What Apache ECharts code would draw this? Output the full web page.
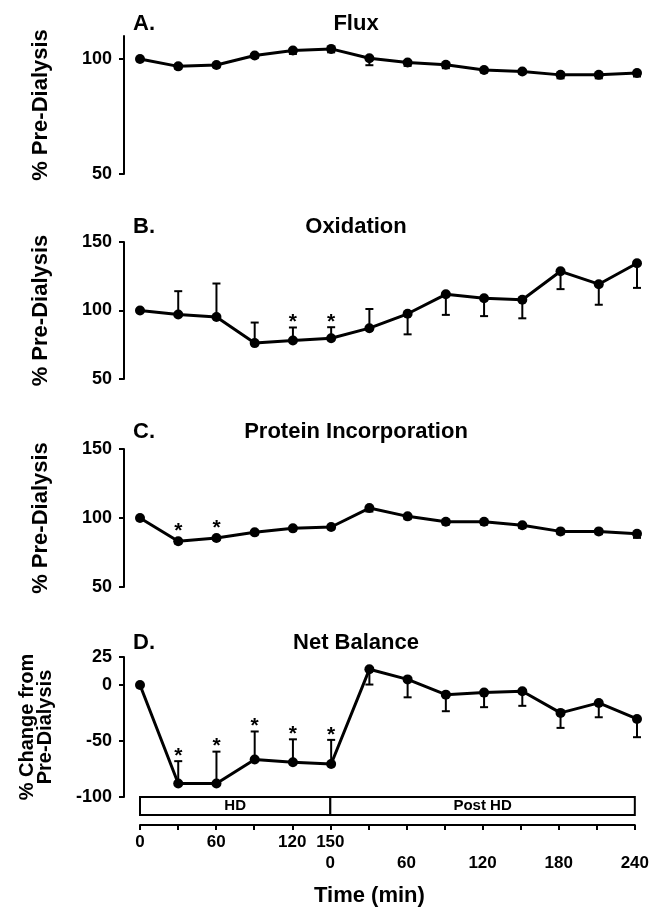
<!DOCTYPE html>
<html><head><meta charset="utf-8">
<script src="https://cdn.jsdelivr.net/npm/echarts@6/dist/echarts.min.js"></script>
<style>html,body{margin:0;padding:0;background:#fff}#chart{width:652px;height:916px}</style>
</head><body><div id="chart"></div>
<script>
// ---- data ----
const sampleTimes = [0, 30, 60, 90, 120, 150, 180, 210, 240, 270, 300, 330, 360, 390]; // elapsed minutes
const hdEnd = 150;
const phaseNames = ['HD', 'Post HD'];
const phaseBounds = [0, 150, 390];
const hdTickTimes = [0, 60, 120, 150];
const hdTickLabels = ['0', '60', '120', '150'];
const postTickTimes = [0, 60, 120, 180, 240];
const postTickLabels = ['0', '60', '120', '180', '240'];

const panelLetters = ['A.', 'B.', 'C.', 'D.'];
const panelTitles = ['Flux', 'Oxidation', 'Protein Incorporation', 'Net Balance'];
const yNames = ['% Pre-Dialysis', '% Pre-Dialysis', '% Pre-Dialysis', '% Change from\nPre-Dialysis'];

const fluxMean = [100, 96.8, 97.4, 101.5, 103.7, 104.4, 100.3, 98.5, 97.5, 95.2, 94.6, 93.1, 93.1, 93.9];
const fluxSem  = [0, 1, 1, 1, 1.5, 1.5, 3, 1.5, 1.5, 1, 1, 1.5, 1.5, 1.5];
const fluxDir  = [-1, -1, -1, -1, -1, -1, -1, -1, -1, -1, -1, -1, -1, -1];
const fluxSig  = [0, 0, 0, 0, 0, 0, 0, 0, 0, 0, 0, 0, 0, 0];
const fluxTicks = [50, 100];

const oxMean = [100, 97.1, 95.2, 76.2, 78.1, 79.8, 87.1, 97.6, 111.8, 108.9, 107.9, 128.6, 119.2, 134.5];
const oxSem  = [0, 17, 24.5, 15, 9.5, 8, 14, 15, 15, 13, 13.6, 13, 15, 18];
const oxDir  = [1, 1, 1, 1, 1, 1, 1, -1, -1, -1, -1, -1, -1, -1];
const oxSig  = [0, 0, 0, 0, 1, 1, 0, 0, 0, 0, 0, 0, 0, 0];
const oxTicks = [50, 100, 150];

const protMean = [100, 83.1, 85.5, 89.6, 92.5, 93.5, 107.2, 101.2, 97.3, 97.3, 94.7, 90.3, 90.3, 88.6];
const protSem  = [0, 1.5, 1.5, 1.5, 1.5, 1.5, 2.5, 2, 2, 2, 2, 2, 2, 3];
const protDir  = [-1, -1, -1, -1, -1, -1, -1, -1, -1, -1, -1, -1, -1, -1];
const protSig  = [0, 1, 1, 0, 0, 0, 0, 0, 0, 0, 0, 0, 0, 0];
const protTicks = [50, 100, 150];

const nbMean = [0, -88, -88, -66.5, -69, -70.5, 14, 5, -8.6, -6.8, -5.6, -24.9, -16, -30.3];
const nbSem  = [0, 20, 28.5, 25, 20.5, 21.5, 13.6, 16, 14.8, 13, 13, 13.4, 12.8, 16.3];
const nbDir  = [1, 1, 1, 1, 1, 1, -1, -1, -1, -1, -1, -1, -1, -1];
const nbSig  = [0, 1, 1, 1, 1, 1, 0, 0, 0, 0, 0, 0, 0, 0];
const nbTicks = [-100, -50, 0, 25];

// ---- layout ----
const FONT = '"Liberation Sans", Arial, Helvetica, sans-serif';
const panels = [
  {mean: fluxMean, sem: fluxSem, dir: fluxDir, sig: fluxSig, ticks: fluxTicks, min: 50, max: 110, top: 36, height: 138, titleTop: 13, nameGap: 72, fs: 22, lh: 22},
  {mean: oxMean, sem: oxSem, dir: oxDir, sig: oxSig, ticks: oxTicks, min: 50, max: 150, top: 242, height: 137, titleTop: 216, nameGap: 72, fs: 22, lh: 22},
  {mean: protMean, sem: protSem, dir: protDir, sig: protSig, ticks: protTicks, min: 50, max: 150, top: 449, height: 138, titleTop: 421, nameGap: 72, fs: 22, lh: 22},
  {mean: nbMean, sem: nbSem, dir: nbDir, sig: nbSig, ticks: nbTicks, min: -100, max: 25, top: 657, height: 140, titleTop: 632, nameGap: 70, fs: 20, lh: 18}
];

const grids = [], xAxes = [], yAxes = [], series = [], titles = [];
panels.forEach((p, i) => {
  grids.push({left: 140, right: 15, top: p.top, height: p.height});
  xAxes.push({gridIndex: i, type: 'value', min: 0, max: 390, show: false});
  yAxes.push({
    gridIndex: i, type: 'value', min: p.min, max: p.max, position: 'left', offset: 16,
    axisLine: {show: true, onZero: false, lineStyle: {color: '#000', width: 2}},
    axisTick: {show: true, length: 5, customValues: p.ticks, lineStyle: {color: '#000', width: 2}},
    axisLabel: {customValues: p.ticks, color: '#000', fontSize: 18, fontWeight: 'bold', fontFamily: FONT, margin: 12},
    splitLine: {show: false},
    name: yNames[i], nameLocation: 'middle', nameRotate: 90, nameGap: p.nameGap,
    nameTextStyle: {color: '#000', fontSize: p.fs, fontWeight: 'bold', fontFamily: FONT, lineHeight: p.lh}
  });
  const rows = sampleTimes.map((t, k) => [t, p.mean[k], p.sem[k], p.dir[k], p.sig[k]]);
  series.push({
    type: 'custom', xAxisIndex: i, yAxisIndex: i, data: rows, z: 2, silent: true,
    encode: {x: 0, y: 1},
    renderItem: (params, api) => {
      const x = api.value(0), m = api.value(1), s = api.value(2), d = api.value(3), g = api.value(4);
      const pt = api.coord([x, m]);
      const end = api.coord([x, m + s * d]);
      const children = [];
      if (s > 0) {
        children.push({type: 'line', shape: {x1: pt[0], y1: pt[1], x2: end[0], y2: end[1]}, style: {stroke: '#000', lineWidth: 2}});
        children.push({type: 'line', shape: {x1: end[0] - 4, y1: end[1], x2: end[0] + 4, y2: end[1]}, style: {stroke: '#000', lineWidth: 2}});
      }
      if (g) {
        let anchor = pt[1] - 5;
        if (d > 0 && end[1] < anchor) anchor = end[1];
        children.push({type: 'text', style: {x: pt[0], y: anchor - 5, text: '*', fill: '#000', font: 'bold 21px ' + FONT, align: 'center', verticalAlign: 'middle'}});
      }
      return {type: 'group', children};
    }
  });
  series.push({
    type: 'line', xAxisIndex: i, yAxisIndex: i, z: 3, silent: true,
    data: sampleTimes.map((t, k) => [t, p.mean[k]]),
    symbol: 'circle', symbolSize: 10,
    lineStyle: {color: '#000', width: 3}, itemStyle: {color: '#000'}
  });
  titles.push({text: panelLetters[i], left: 133, top: p.titleTop, padding: 0,
    textStyle: {color: '#000', fontSize: 22, fontWeight: 'bold', fontFamily: FONT, lineHeight: 22}});
  titles.push({text: panelTitles[i], left: 356, top: p.titleTop, padding: 0, textAlign: 'center',
    textStyle: {color: '#000', fontSize: 22, fontWeight: 'bold', fontFamily: FONT, lineHeight: 22}});
});

// phase box + time axis
grids.push({left: 140, right: 15, top: 797, height: 18});
xAxes.push({
  gridIndex: 4, type: 'value', min: 0, max: 390, interval: 30, position: 'bottom', offset: 10,
  axisLine: {show: true, onZero: false, lineStyle: {color: '#000', width: 2}},
  axisTick: {show: true, length: 5, lineStyle: {color: '#000', width: 2}},
  axisLabel: {
    color: '#000', fontSize: 17, fontWeight: 'bold', fontFamily: FONT, lineHeight: 21, margin: 7,
    showMinLabel: true, showMaxLabel: true,
    formatter: (v) => {
      const a = hdTickTimes.indexOf(v);
      const b = postTickTimes.indexOf(v - hdEnd);
      const r1 = a >= 0 ? hdTickLabels[a] : '';
      const r2 = b >= 0 ? postTickLabels[b] : '';
      if (!r1 && !r2) return '';
      return r1 + '\n' + r2;
    }
  },
  splitLine: {show: false},
  name: 'Time (min)', nameLocation: 'middle', nameGap: 60,
  nameTextStyle: {color: '#000', fontSize: 22, fontWeight: 'bold', fontFamily: FONT, padding: [0, 36, 0, 0]}
});
yAxes.push({gridIndex: 4, type: 'value', min: 0, max: 1, show: false});
series.push({
  type: 'line', xAxisIndex: 4, yAxisIndex: 4, data: [], silent: true,
  markArea: {
    silent: true,
    itemStyle: {color: '#fff', borderColor: '#000', borderWidth: 2},
    label: {show: true, position: 'inside', color: '#000', fontSize: 15, fontWeight: 'bold', fontFamily: FONT},
    data: phaseNames.map((n, k) => [{name: n, xAxis: phaseBounds[k], yAxis: 0}, {xAxis: phaseBounds[k + 1], yAxis: 1}])
  }
});

const chart = echarts.init(document.getElementById('chart'), null, {renderer: 'canvas'});
chart.setOption({
  backgroundColor: '#fff',
  animation: false,
  textStyle: {fontFamily: FONT},
  title: titles,
  grid: grids,
  xAxis: xAxes,
  yAxis: yAxes,
  series: series
});
</script>
</body></html>
